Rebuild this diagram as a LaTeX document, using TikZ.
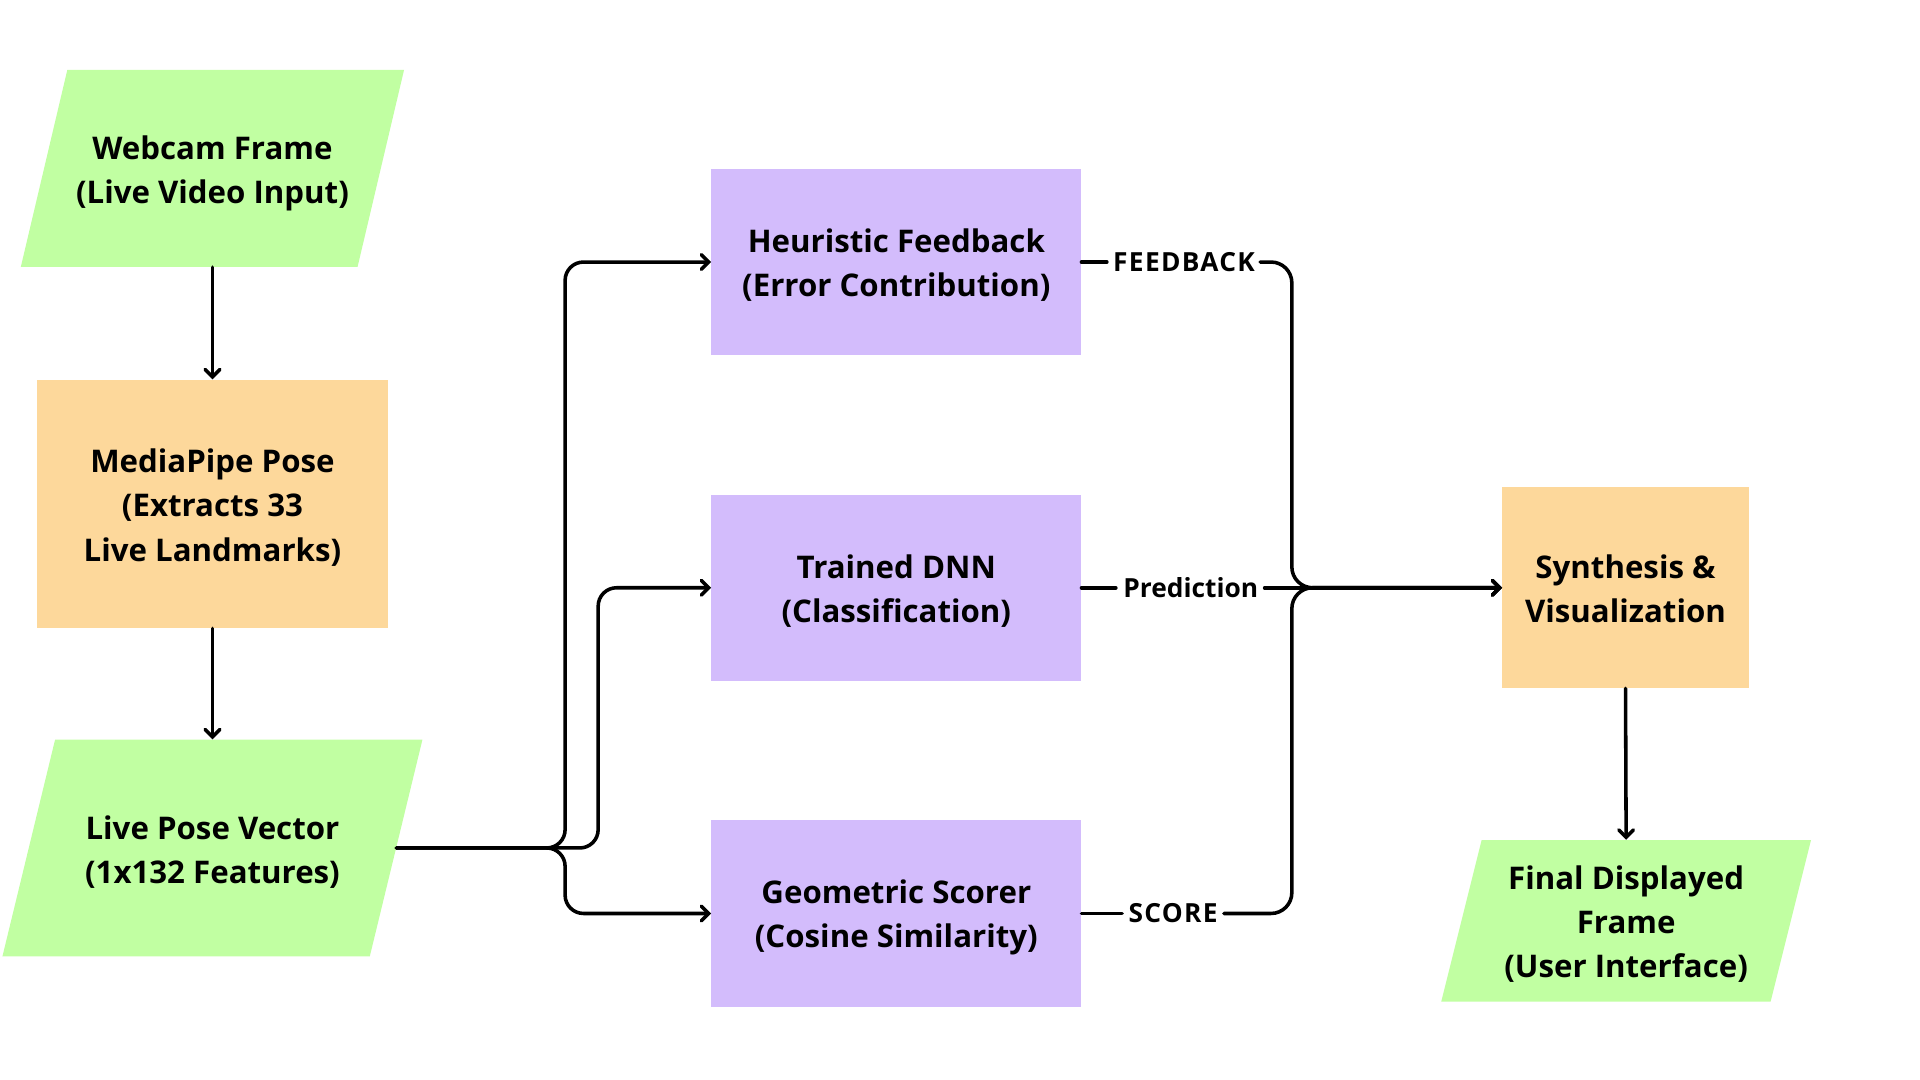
\documentclass[tikz,border=0pt]{standalone}
\usepackage{fontspec}
\setmainfont{Open Sans}
\usetikzlibrary{arrows.meta}
\definecolor{gfill}{HTML}{C1FFA2}
\definecolor{ofill}{HTML}{FDD89B}
\definecolor{pfill}{HTML}{D3BCFC}
\tikzset{
  txt/.style={align=center,font=\fontsize{25.5}{36}\selectfont\bfseries,inner sep=0pt,text depth=0pt},
  boxo/.style={txt,fill=ofill},
  boxp/.style={txt,fill=pfill,minimum width=302pt,minimum height=152pt},
  anchorbox/.style={txt},
  lbl/.style={font=\fontsize{21.5}{22}\selectfont\bfseries,inner sep=0pt,fill=white},
  capslbl/.style={lbl,font=\fontsize{21.5}{22}\selectfont\bfseries\addfontfeature{LetterSpace=5}},
  conn/.style={line width=2.9pt,line cap=round,rounded corners=15pt,-{Straight Barb[length=6pt,width=12pt,line cap=round]}},
  plain/.style={line width=2.9pt,line cap=round}
}
\begin{document}
\begin{tikzpicture}[x=1pt,y=-1pt]
\fill[white] (0,0) rectangle (1568,882);
\useasboundingbox (0,0) rectangle (1568,882);
% parallelograms
\fill[gfill] (55,57) -- (330,57) -- (292,218) -- (17,218) -- cycle;
\node[anchorbox,minimum width=274pt,minimum height=161pt] (web) at (173.5,137.5) {};
\node[txt] at (173.5,138.5) {Webcam Frame\\(Live Video Input)};
\fill[gfill] (45,604) -- (345,604) -- (302,781) -- (2,781) -- cycle;
\node[anchorbox,minimum width=300pt,minimum height=177pt] (lp) at (173.5,692.5) {};
\node[txt] at (173.5,693.5) {Live Pose Vector\\(1x132 Features)};
\fill[gfill] (1210,686) -- (1479,686) -- (1446,818) -- (1177,818) -- cycle;
\node[anchorbox,minimum width=269pt,minimum height=132pt] (fin) at (1328,752) {};
\node[txt] at (1328,753) {Final Displayed\\Frame\\(User Interface)};
% boxes
\node[boxo,minimum width=287pt,minimum height=203pt] (mp) at (173.5,411.5) {};
\node[txt] at (173.5,412.5) {MediaPipe Pose\\(Extracts 33\\Live Landmarks)};
\node[boxp] (heur) at (732,214) {};
\node[txt] at (732,214.5) {Heuristic Feedback\\(Error Contribution)};
\node[boxp] (dnn) at (732,480) {};
\node[txt] at (732,480.5) {Trained DNN\\(Classification)};
\node[boxp] (geo) at (732,746) {};
\node[txt] at (732,746.5) {Geometric Scorer\\(Cosine Similarity)};
\node[boxo,minimum width=201pt,minimum height=164pt] (syn) at (1327.5,480) {};
\node[txt] at (1327.5,480.5) {Synthesis \&\\Visualization};
% labels
\node[capslbl] (fb) at (967,214) {FEEDBACK};
\node[lbl] (pr) at (972.5,480) {Prediction};
\node[capslbl] (sc) at (958,746) {SCORE};
% connectors
\draw[conn] (web.south) -- (mp.north);
\draw[conn] (mp.south) -- (lp.north);
\draw[conn] (lp.east) -- (461.5,692.5) -- (461.5,214) -- (heur.west);
\draw[conn] (lp.east) -- (488.5,692.5) -- (488.5,480) -- (dnn.west);
\draw[conn] (lp.east) -- (461.5,692.5) -- (461.5,746) -- (geo.west);
\draw[plain] (heur.east) -- ([xshift=-5pt]fb.west);
\draw[plain] (dnn.east) -- ([xshift=-6pt]pr.west);
\draw[plain] (geo.east) -- ([xshift=-5pt]sc.west);
\draw[conn,rounded corners=17pt] ([xshift=4pt]fb.east) -- (1055,214) -- (1055,480) -- (syn.west);
\draw[conn] ([xshift=5pt]pr.east) -- (syn.west);
\draw[conn,rounded corners=17pt] ([xshift=5pt]sc.east) -- (1055,746) -- (1055,480) -- (syn.west);
\draw[conn] (syn.south) -- (fin.north);
\end{tikzpicture}
\end{document}
